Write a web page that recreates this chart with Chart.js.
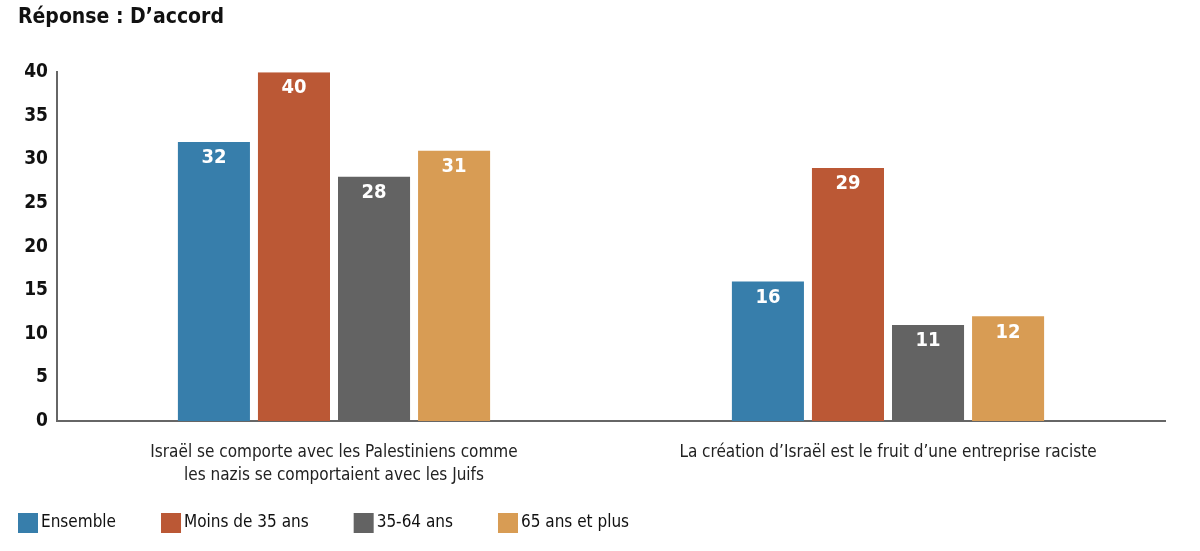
<!DOCTYPE html>
<html>
<head>
<meta charset="utf-8">
<script src="https://cdn.jsdelivr.net/npm/chart.js@4.4.0/dist/chart.umd.min.js"></script>
<style>
  html, body { margin: 0; padding: 0; background: #fff; }
  #wrap { width: 1200px; height: 551px; position: relative; }
</style>
</head>
<body>
<div id="wrap"><canvas id="chart"></canvas></div>
<script>
const categories = [
    ['Israël se comporte avec les Palestiniens comme', 'les nazis se comportaient avec les Juifs'],
    'La création d\u2019Israël est le fruit d\u2019une entreprise raciste'
];
const ensemble = [32, 16];
const moins35 = [40, 29];
const de35a64 = [28, 11];
const plus65 = [31, 12];
const yTicks = [0, 5, 10, 15, 20, 25, 30, 35, 40];

const police = '"Liberation Sans Narrow", "DejaVu Sans Condensed", "Roboto", sans-serif';

// étiquettes blanches en haut des barres
const etiquettes = {
    id: 'etiquettes',
    afterDatasetsDraw(chart) {
        const ctx = chart.ctx;
        ctx.save();
        ctx.fillStyle = '#ffffff';
        ctx.font = 'bold 20px ' + police;
        ctx.textAlign = 'center';
        ctx.textBaseline = 'middle';
        chart.data.datasets.forEach((ds, i) => {
            chart.getDatasetMeta(i).data.forEach((bar, j) => {
                ctx.fillText(ds.data[j], bar.x, bar.y + 16);
            });
        });
        ctx.restore();
    }
};

// légende en bas, alignée à gauche
const legende = {
    id: 'legende',
    afterDraw(chart) {
        const ctx = chart.ctx;
        ctx.save();
        ctx.font = '17px ' + police;
        ctx.textBaseline = 'middle';
        let x = 18;
        const y = 523;
        chart.data.datasets.forEach(ds => {
            ctx.fillStyle = ds.backgroundColor;
            ctx.fillRect(x, y - 10, 20, 20);
            ctx.fillStyle = '#111111';
            ctx.fillText(ds.label, x + 23, y);
            x += 23 + ctx.measureText(ds.label).width + 45;
        });
        ctx.restore();
    }
};

new Chart(document.getElementById('chart'), {
    type: 'bar',
    data: {
        labels: categories,
        datasets: [
            { label: 'Ensemble', data: ensemble, backgroundColor: '#377eab' },
            { label: 'Moins de 35 ans', data: moins35, backgroundColor: '#bb5835' },
            { label: '35-64 ans', data: de35a64, backgroundColor: '#636363' },
            { label: '65 ans et plus', data: plus65, backgroundColor: '#d89c54' }
        ]
    },
    options: {
        responsive: true,
        maintainAspectRatio: false,
        animation: false,
        layout: { padding: { left: 18, right: 35, top: 0, bottom: 0 } },
        datasets: { bar: { barPercentage: 0.9, categoryPercentage: 0.578 } },
        scales: {
            x: {
                afterFit: axis => { axis.height = 130; },
                grid: { display: false, drawTicks: false },
                border: { color: '#666666', width: 2 },
                ticks: {
                    color: '#222222',
                    font: { family: police, size: 17, lineHeight: 1.35 },
                    padding: 20,
                    maxRotation: 0
                }
            },
            y: {
                min: 0,
                max: 40,
                afterBuildTicks: axis => { axis.ticks = yTicks.map(v => ({ value: v })); },
                afterFit: axis => { axis.width = 39; },
                grid: { display: false, drawTicks: false },
                border: { color: '#666666', width: 2 },
                ticks: {
                    color: '#111111',
                    font: { family: police, size: 19, weight: 'bold' },
                    padding: 9
                }
            }
        },
        plugins: {
            title: {
                display: true,
                text: 'Réponse : D\u2019accord',
                align: 'start',
                color: '#111111',
                font: { family: police, size: 21, weight: 'bold' },
                padding: { top: 5, bottom: 42 }
            },
            legend: { display: false },
            tooltip: { enabled: false }
        }
    },
    plugins: [etiquettes, legende]
});
</script>
</body>
</html>
